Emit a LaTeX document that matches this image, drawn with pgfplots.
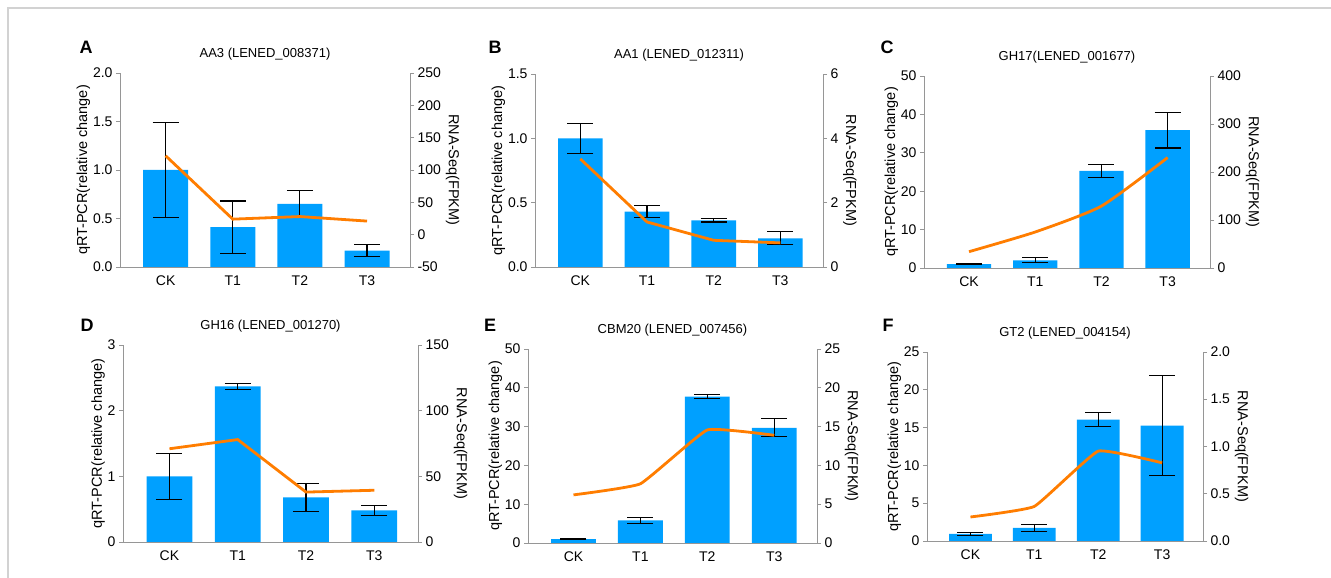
\documentclass[border=0pt]{standalone}
\usepackage{fontspec}
\setmainfont{Liberation Sans}
\usepackage{pgfplots}
\pgfplotsset{compat=1.18}
\definecolor{barblue}{RGB}{0,160,255}
\definecolor{lineorange}{RGB}{255,125,0}
\definecolor{axgray}{RGB}{150,150,150}
\newcommand\tickfont{\fontsize{14}{16}\selectfont}
\newcommand\labfont{\fontsize{14.5}{16}\selectfont}
\newcommand\titfont{\fontsize{13}{15}\selectfont}
\newcommand\letfont{\bfseries\fontsize{18}{20}\selectfont}
\pgfplotsset{
  common/.style={scale only axis, anchor=south west, xmin=-0.68, xmax=3.64,
    tick align=outside, major tick length=4pt,
    every tick/.style={axgray, line width=0.8pt},
    axis line style={axgray, line width=0.8pt},
    ticklabel style={font=\tickfont, black},
    /pgf/number format/assume math mode=true,
    label style={font=\labfont}},
  barax/.style={common, axis x line*=bottom, axis y line*=left,
    xtick={0,1,2,3}, xticklabels={CK,T1,T2,T3}, xtick style={draw=none},
    xticklabel style={yshift=-1pt},
    ylabel={qRT-PCR(relative change)}, ylabel shift=-4pt,
    title style={font=\titfont, at={(0.5,1)}, anchor=center, yshift=13pt}},
  lineax/.style={common, axis x line=none, axis y line*=right, xtick=\empty,
    ylabel={RNA-Seq(FPKM)}, ylabel style={rotate=180}, ylabel shift=-2pt},
  onedec/.style={yticklabel style={/pgf/number format/.cd, fixed, fixed zerofill, precision=1}},
  barplot/.style={ybar, bar width=0.67, fill=barblue, draw=none, bar shift=0pt,
    error bars/.cd, y dir=both, y explicit,
    error bar style={black, line width=1.1pt},
    error mark options={black, line width=1.1pt, mark size=13pt, rotate=90}},
  lineplot/.style={lineorange, line width=2.8pt, no marks}
}
\begin{document}
\begin{tikzpicture}
\useasboundingbox (0pt,0pt) rectangle (1331pt,578pt);
\draw[gray!35, line width=1.5pt] (8pt,0pt) -- (8pt,570pt) -- (1331pt,570pt);

% ---------- A ----------
\begin{axis}[barax, onedec, at={(120pt,311pt)}, width=290pt, height=194pt,
  ymin=0, ymax=2, ytick={0,0.5,1,1.5,2}, title={AA3 (LENED\_008371)}]
\addplot[barplot] table[x=x, y=y, y error=e] {
x y e
0 1.00 0.49
1 0.41 0.27
2 0.65 0.14
3 0.17 0.065
};
\end{axis}
\begin{axis}[lineax, at={(120pt,311pt)}, width=290pt, height=194pt,
  ymin=-50, ymax=250, ytick={-50,0,50,100,150,200,250}]
\addplot[lineplot] coordinates {(0,122) (1,24) (2,28) (3,21)};
\end{axis}

% ---------- B ----------
\begin{axis}[barax, onedec, at={(535pt,311pt)}, width=288pt, height=193pt,
  ymin=0, ymax=1.5, ytick={0,0.5,1,1.5}, title={AA1 (LENED\_012311)}]
\addplot[barplot] table[x=x, y=y, y error=e] {
x y e
0 1.00 0.115
1 0.43 0.046
2 0.363 0.013
3 0.223 0.05
};
\end{axis}
\begin{axis}[lineax, at={(535pt,311pt)}, width=288pt, height=193pt,
  ymin=0, ymax=6, ytick={0,2,4,6}]
\addplot[lineplot] coordinates {(0,3.36) (1,1.40) (2,0.83) (3,0.75)};
\end{axis}

% ---------- C ----------
\begin{axis}[barax, at={(924pt,310pt)}, width=286pt, height=192pt,
  ymin=0, ymax=50, ytick={0,10,20,30,40,50}, title={GH17(LENED\_001677)}]
\addplot[barplot] table[x=x, y=y, y error=e] {
x y e
0 1.0 0.1
1 2.0 0.65
2 25.3 1.7
3 35.9 4.65
};
\end{axis}
\begin{axis}[lineax, at={(924pt,310pt)}, width=286pt, height=192pt,
  ymin=0, ymax=400, ytick={0,100,200,300,400}]
\addplot[lineplot, smooth, tension=0.35] coordinates {(0,34) (1,75) (2,129) (3,230)};
\end{axis}

% ---------- D ----------
\begin{axis}[barax, at={(123pt,36pt)}, width=295pt, height=197pt,
  ymin=0, ymax=3, ytick={0,1,2,3}, title={GH16 (LENED\_001270)}]
\addplot[barplot] table[x=x, y=y, y error=e] {
x y e
0 1.00 0.35
1 2.37 0.045
2 0.68 0.21
3 0.48 0.07
};
\end{axis}
\begin{axis}[lineax, at={(123pt,36pt)}, width=295pt, height=197pt,
  ymin=0, ymax=150, ytick={0,50,100,150}]
\addplot[lineplot] coordinates {(0,71) (1,78) (2,38) (3,39.4)};
\end{axis}

% ---------- E ----------
\begin{axis}[barax, at={(528pt,35pt)}, width=289pt, height=194pt,
  ymin=0, ymax=50, ytick={0,10,20,30,40,50}, title={CBM20 (LENED\_007456)}]
\addplot[barplot] table[x=x, y=y, y error=e] {
x y e
0 1.0 0.15
1 5.8 0.7
2 37.7 0.5
3 29.7 2.35
};
\end{axis}
\begin{axis}[lineax, at={(528pt,35pt)}, width=289pt, height=194pt,
  ymin=0, ymax=25, ytick={0,5,10,15,20,25}]
\addplot[lineplot, smooth, tension=0.2] coordinates {(0,6.2) (1,7.63) (2,14.57) (3,13.88)};
\end{axis}

% ---------- F ----------
\begin{axis}[barax, at={(927pt,37pt)}, width=276pt, height=189pt,
  ymin=0, ymax=25, ytick={0,5,10,15,20,25}, title={GT2 (LENED\_004154)}]
\addplot[barplot] table[x=x, y=y, y error=e] {
x y e
0 0.95 0.22
1 1.72 0.42
2 16.06 0.95
3 15.27 6.6
};
\end{axis}
\begin{axis}[lineax, onedec, at={(927pt,37pt)}, width=276pt, height=189pt,
  ymin=0, ymax=2, ytick={0,0.5,1,1.5,2}]
\addplot[lineplot, smooth, tension=0.2] coordinates {(0,0.254) (1,0.366) (2,0.951) (3,0.827)};
\end{axis}

\node[font=\letfont] at (86pt,531pt) {A};
\node[font=\letfont] at (495pt,531pt) {B};
\node[font=\letfont] at (887pt,531pt) {C};
\node[font=\letfont] at (87pt,253pt) {D};
\node[font=\letfont] at (490pt,253pt) {E};
\node[font=\letfont] at (888pt,253pt) {F};
\end{tikzpicture}
\end{document}
